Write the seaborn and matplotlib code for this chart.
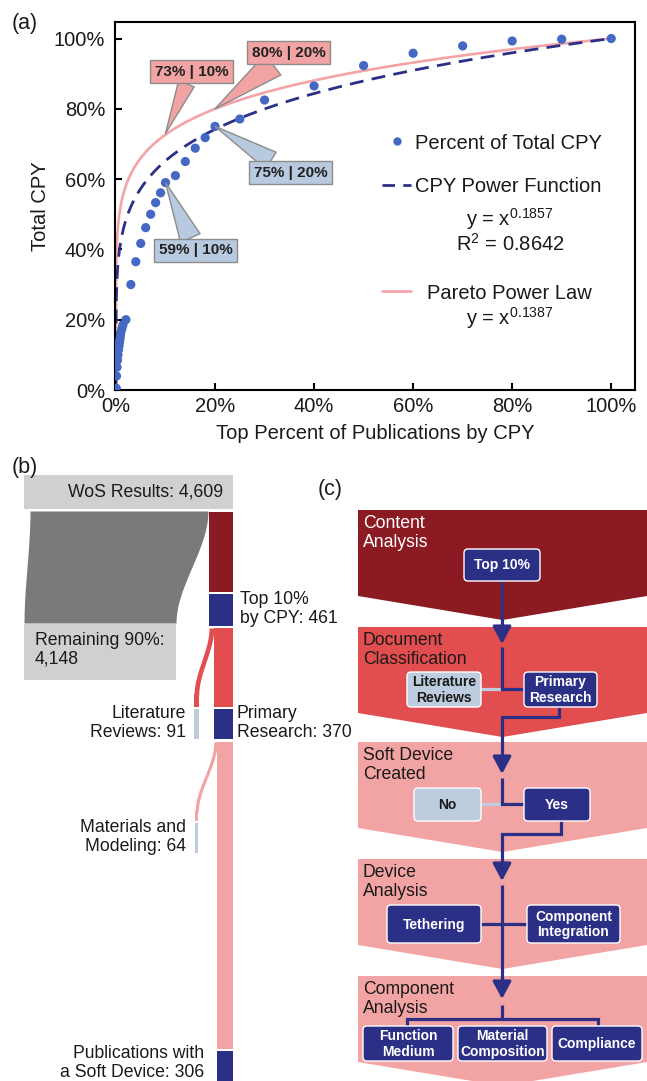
import numpy as np
import pandas as pd
import matplotlib
matplotlib.use("Agg")
import matplotlib.pyplot as plt
import seaborn as sns
from matplotlib.lines import Line2D
from matplotlib.patches import Rectangle, Polygon, FancyBboxPatch

# ---------------- (a) cumulative share of citations per year ----------------
top_percent = [0.05, 0.1, 0.2, 0.3, 0.4, 0.5, 0.6, 0.7, 0.8, 0.9, 1.0, 1.2, 1.4,
               2, 3, 4, 5, 6, 7, 8, 9, 10, 12, 14, 16, 18, 20, 25, 30,
               40, 50, 60, 70, 80, 90, 100]
total_cpy = [0.5, 4, 6.5, 8.5, 10, 11.5, 12.5, 13.5, 14.5, 15.5, 16.5, 17.5, 18.5,
             20, 30, 36.5, 41.7, 46.2, 50, 53.3, 56.1, 59, 61, 65, 68.8, 71.8, 75, 77.1, 82.5,
             86.5, 92.3, 95.8, 97.9, 99.3, 99.8, 100]

cpy_exponent = 0.1857
cpy_r2 = 0.8642
pareto_exponent = 0.1387

# (top %, share %) pairs called out on each curve
pareto_callouts = [(10, 73), (20, 80)]
cpy_callouts = [(20, 75), (10, 59)]

pct_ticks = [0, 20, 40, 60, 80, 100]
pct_tick_labels = ["0%", "20%", "40%", "60%", "80%", "100%"]

# ---------------- (b) publication screening counts ----------------
wos_results = 4609
remaining_90 = 4148
top10_cpy = 461
literature_reviews = 91
primary_research = 370
materials_modeling = 64
soft_device = 306

# ---------------- (c) analysis stages ----------------
stage_titles = ["Content\nAnalysis", "Document\nClassification", "Soft Device\nCreated",
                "Device\nAnalysis", "Component\nAnalysis"]

# colours
DARK_RED = "#8B1A22"
RED = "#E24D50"
PINK = "#F2A3A3"
NAVY = "#2B3086"
LBLUE = "#BDCCDE"
DOT_BLUE = "#4468C4"
CURVE_PINK = "#F4A3A6"
LGREY = "#D0D0D0"
DGREY = "#7A7A7A"
INK = "#1a1a1a"

sns.set_theme(style="ticks")
plt.rcParams["font.family"] = ["Liberation Sans", "DejaVu Sans"]
plt.rcParams["mathtext.fontset"] = "custom"
plt.rcParams["mathtext.rm"] = "Liberation Sans"
plt.rcParams["mathtext.it"] = "Liberation Sans:italic"
plt.rcParams["mathtext.bf"] = "Liberation Sans:bold"

W, H = 647, 1081
fig = plt.figure(figsize=(W / 100, H / 100), dpi=100)
fig.patch.set_facecolor("white")

# ======================= panel (a) =======================
ax = fig.add_axes([115 / W, 1 - 390 / H, 520 / W, 368 / H])
ax.set_facecolor("white")

xs = np.concatenate([[0.0], np.geomspace(1e-9, 1, 600)])
fits = pd.DataFrame({
    "x": xs * 100,
    "pareto": xs ** pareto_exponent * 100,
    "cpy": xs ** cpy_exponent * 100,
})
sns.lineplot(data=fits, x="x", y="pareto", ax=ax, color=CURVE_PINK, lw=1.9,
             estimator=None, sort=False, zorder=2)
sns.lineplot(data=fits, x="x", y="cpy", ax=ax, color=NAVY, lw=2.0,
             linestyle=(0, (5, 3)), estimator=None, sort=False, zorder=2)
points = pd.DataFrame({"top": top_percent, "share": total_cpy})
sns.scatterplot(data=points, x="top", y="share", ax=ax, color=DOT_BLUE, s=44,
                edgecolor="none", linewidth=0, zorder=3, legend=False)

ax.set_xlim(-0.2, 104.8)
ax.set_ylim(0, 104.7)
ax.set_xticks(pct_ticks)
ax.set_xticklabels(pct_tick_labels)
ax.set_yticks(pct_ticks)
ax.set_yticklabels(pct_tick_labels)
ax.tick_params(axis="both", direction="in", length=5, width=1.5, color="black",
               labelsize=14.5, labelcolor=INK)
ax.tick_params(axis="x", pad=5)
ax.tick_params(axis="y", pad=7)
for sp in ax.spines.values():
    sp.set_visible(True)
    sp.set_color("black")
    sp.set_linewidth(1.5)
ax.set_xlabel("Top Percent of Publications by CPY", fontsize=14.5, color=INK, labelpad=6)
ax.set_ylabel("Total CPY", fontsize=14.5, color=INK, labelpad=3)


def callout(pt, text_xy, fc, tail=1.2):
    x, y = pt
    ax.annotate(f"{y}% | {x}%", xy=(x, y), xytext=text_xy, textcoords="data",
                ha="center", va="center", fontsize=11, fontweight="bold", color="#222222",
                bbox=dict(boxstyle="square,pad=0.3", fc=fc, ec="#8c8c8c", lw=1),
                arrowprops=dict(arrowstyle=f"wedge,tail_width={tail},shrink_factor=0.5",
                                fc=fc, ec="#8c8c8c", lw=1, shrinkA=0, shrinkB=0),
                zorder=5)


callout(pareto_callouts[0], (15.25, 90.6), PINK, 1.1)
callout(pareto_callouts[1], (34.9, 96.0), PINK, 1.7)
callout(cpy_callouts[0], (35.25, 61.8), "#B8CADF", 1.3)
callout(cpy_callouts[1], (16.1, 39.8), "#B8CADF", 1.4)

h_dot = Line2D([], [], ls="none", marker="o", ms=6, color=DOT_BLUE, mec="none")
h_dash = Line2D([], [], ls=(0, (4.5, 3)), lw=2, color=NAVY)
h_pink = Line2D([], [], lw=1.9, color=CURVE_PINK)
leg1 = ax.legend([h_dot, h_dash], ["Percent of Total CPY", "CPY Power Function"],
                 loc="upper left", bbox_to_anchor=(0.5135, 0.697), frameon=False,
                 borderpad=0, borderaxespad=0, handlelength=1.44, handletextpad=0.2,
                 labelspacing=1.24, fontsize=14.5, labelcolor=INK)
ax.add_artist(leg1)
ax.legend([h_pink], ["Pareto Power Law"], loc="upper left",
          bbox_to_anchor=(0.5135, 0.2894), frameon=False, borderpad=0, borderaxespad=0,
          handlelength=1.44, handletextpad=0.8, fontsize=14.5, labelcolor=INK)
ax.text(0.7596, 0.4647, "y = x$^{%.4f}$" % cpy_exponent, transform=ax.transAxes,
        ha="center", va="center", fontsize=14.5, color=INK)
ax.text(0.7596, 0.3967, "R$^{2}$ = %.4f" % cpy_r2, transform=ax.transAxes,
        ha="center", va="center", fontsize=14.5, color=INK)
ax.text(0.7596, 0.1957, "y = x$^{%.4f}$" % pareto_exponent, transform=ax.transAxes,
        ha="center", va="center", fontsize=14.5, color=INK)

# ======================= panels (b) and (c): pixel-space canvas =======================
dg = fig.add_axes([0, 0, 1, 1])
dg.set_xlim(0, W)
dg.set_ylim(H, 0)
dg.axis("off")

dg.text(25, 24, "(a)", fontsize=15.5, color=INK, ha="center", va="center")
dg.text(25, 468, "(b)", fontsize=15.5, color=INK, ha="center", va="center")
dg.text(330, 489, "(c)", fontsize=15.5, color=INK, ha="center", va="center")


def ribbon(y0, y1, l0, r0, l1, r1, color):
    yy = np.linspace(y0, y1, 120)
    t = (yy - y0) / (y1 - y0)
    s = t * t * (3 - 2 * t)
    dg.fill_betweenx(yy, l0 + (l1 - l0) * s, r0 + (r1 - r0) * s, color=color, lw=0)


def rect(x0, y0, w, h, color):
    dg.add_patch(Rectangle((x0, y0), w, h, fc=color, ec="none", lw=0))


# ---- (b) Sankey-style screening flow ----
k = 24 / top10_cpy      # horizontal pixels per publication in the right column
xr = 233                # right edge of the column
x_top = xr - top10_cpy * k
x_prim = xr - primary_research * k
x_soft = xr - soft_device * k
BLS = 1.15

rect(24, 475, xr - 24, 34, LGREY)
dg.text(146, 492, f"WoS Results: {wos_results:,}", fontsize=12.7, color=INK,
        ha="center", va="center")
ribbon(511, 623, 30, 208, 24, 176, DGREY)
rect(24, 624, 152, 56, LGREY)
dg.text(35, 650, f"Remaining 90%:\n{remaining_90:,}", fontsize=12.7, color=INK,
        ha="left", va="center", linespacing=BLS)

rect(x_top, 512, top10_cpy * k, 80, DARK_RED)
rect(x_top, 594, top10_cpy * k, 32, NAVY)
dg.text(240, 609, f"Top 10%\nby CPY: {top10_cpy}", fontsize=12.7, color=INK,
        ha="left", va="center", linespacing=BLS)

# literature reviews branch
rect(x_prim, 628, primary_research * k, 79, RED)
ribbon(628, 695, x_top, x_prim, 194, 194 + literature_reviews * k, RED)
rect(194, 694, literature_reviews * k, 13, RED)
rect(194, 709, literature_reviews * k, 30, LBLUE)
rect(x_prim, 709, primary_research * k, 30, NAVY)
dg.text(237, 723, f"Primary\nResearch: {primary_research}", fontsize=12.7, color=INK,
        ha="left", va="center", linespacing=BLS)
dg.text(186, 723, f"Literature\nReviews: {literature_reviews}", fontsize=12.7, color=INK,
        ha="right", va="center", linespacing=BLS)

# materials / modelling branch
rect(x_soft, 742, soft_device * k, 307, PINK)
ribbon(742, 812, x_prim, x_soft, 195, 195 + materials_modeling * k, PINK)
rect(195, 811, materials_modeling * k, 10, PINK)
rect(195, 823, materials_modeling * k, 30, LBLUE)
dg.text(186, 837, f"Materials and\nModeling: {materials_modeling}", fontsize=12.7,
        color=INK, ha="right", va="center", linespacing=BLS)
rect(x_soft, 1051, soft_device * k, 30, NAVY)
dg.text(204, 1063, f"Publications with\na Soft Device: {soft_device}", fontsize=12.7,
        color=INK, ha="right", va="center", linespacing=BLS)

# ---- (c) analysis funnel ----
band_left, band_right = 358, 647
band_mid = (band_left + band_right) / 2
band_tops = [510, 627, 742, 859, 976]
band_colors = [DARK_RED, RED, PINK, PINK, PINK]
title_colors = ["white", INK, INK, INK, INK]
for title, top, col, tcol in zip(stage_titles, band_tops, band_colors, title_colors):
    side = top + 86
    dg.add_patch(Polygon([(band_left, top), (band_right, top), (band_right, side),
                          (band_mid, side + 24), (band_left, side)],
                         closed=True, fc=col, ec="none"))
    dg.text(363, top + 23, title, fontsize=12.7, color=tcol, ha="left", va="center",
            linespacing=1.2)

boxes = [
    ("Top 10%", 464, 549, 540, 581, NAVY),
    ("Literature\nReviews", 407, 672, 481, 707, LBLUE),
    ("Primary\nResearch", 524, 672, 597, 707, NAVY),
    ("No", 414, 788, 481, 821, LBLUE),
    ("Yes", 524, 788, 590, 821, NAVY),
    ("Tethering", 387, 905, 481, 943, NAVY),
    ("Component\nIntegration", 527, 905, 620, 943, NAVY),
    ("Function\nMedium", 363, 1026, 453, 1061, NAVY),
    ("Material\nComposition", 458, 1026, 547, 1061, NAVY),
    ("Compliance", 552, 1026, 642, 1061, NAVY),
]

LW = 2.3
cx = 502
light_links = [((481, 689), (cx, 689)), ((481, 804), (cx, 804))]
for (a, b) in light_links:
    dg.plot([a[0], b[0]], [a[1], b[1]], color=LBLUE, lw=LW, solid_capstyle="butt", zorder=2)

paths = [
    [(cx, 647), (cx, 689), (524, 689)],
    [(559, 707), (559, 717), (cx, 717), (cx, 765)],
    [(cx, 778), (cx, 804), (524, 804)],
    [(561, 821), (561, 834), (cx, 834), (cx, 872)],
    [(cx, 885), (cx, 990)],
    [(481, 924), (527, 924)],
    [(cx, 1005), (cx, 1019)],
    [(407, 1026), (407, 1019), (598, 1019), (598, 1026)],
    [(cx, 581), (cx, 635)],
]
for p in paths:
    px, py = zip(*p)
    dg.plot(px, py, color=NAVY, lw=LW, solid_capstyle="butt", solid_joinstyle="miter",
            zorder=2)

for y_from, y_tip in [(630, 644), (763, 774), (870, 881), (988, 999)]:
    dg.annotate("", xy=(cx, y_tip), xytext=(cx, y_from),
                arrowprops=dict(arrowstyle="-|>,head_length=0.75,head_width=0.4",
                                color=NAVY, lw=LW, shrinkA=0, shrinkB=0,
                                mutation_scale=14), zorder=3)

for label, x0, y0, x1, y1, fc in boxes:
    dg.add_patch(FancyBboxPatch((x0, y0), x1 - x0, y1 - y0,
                                boxstyle="round,pad=0,rounding_size=4",
                                fc=fc, ec="white", lw=1.0, zorder=4))
    dg.text((x0 + x1) / 2, (y0 + y1) / 2 + 0.5, label, fontsize=10, fontweight="bold",
            color="white" if fc == NAVY else INK, ha="center", va="center",
            linespacing=1.15, zorder=5)

fig.savefig("out.png", dpi=100, facecolor="white")
